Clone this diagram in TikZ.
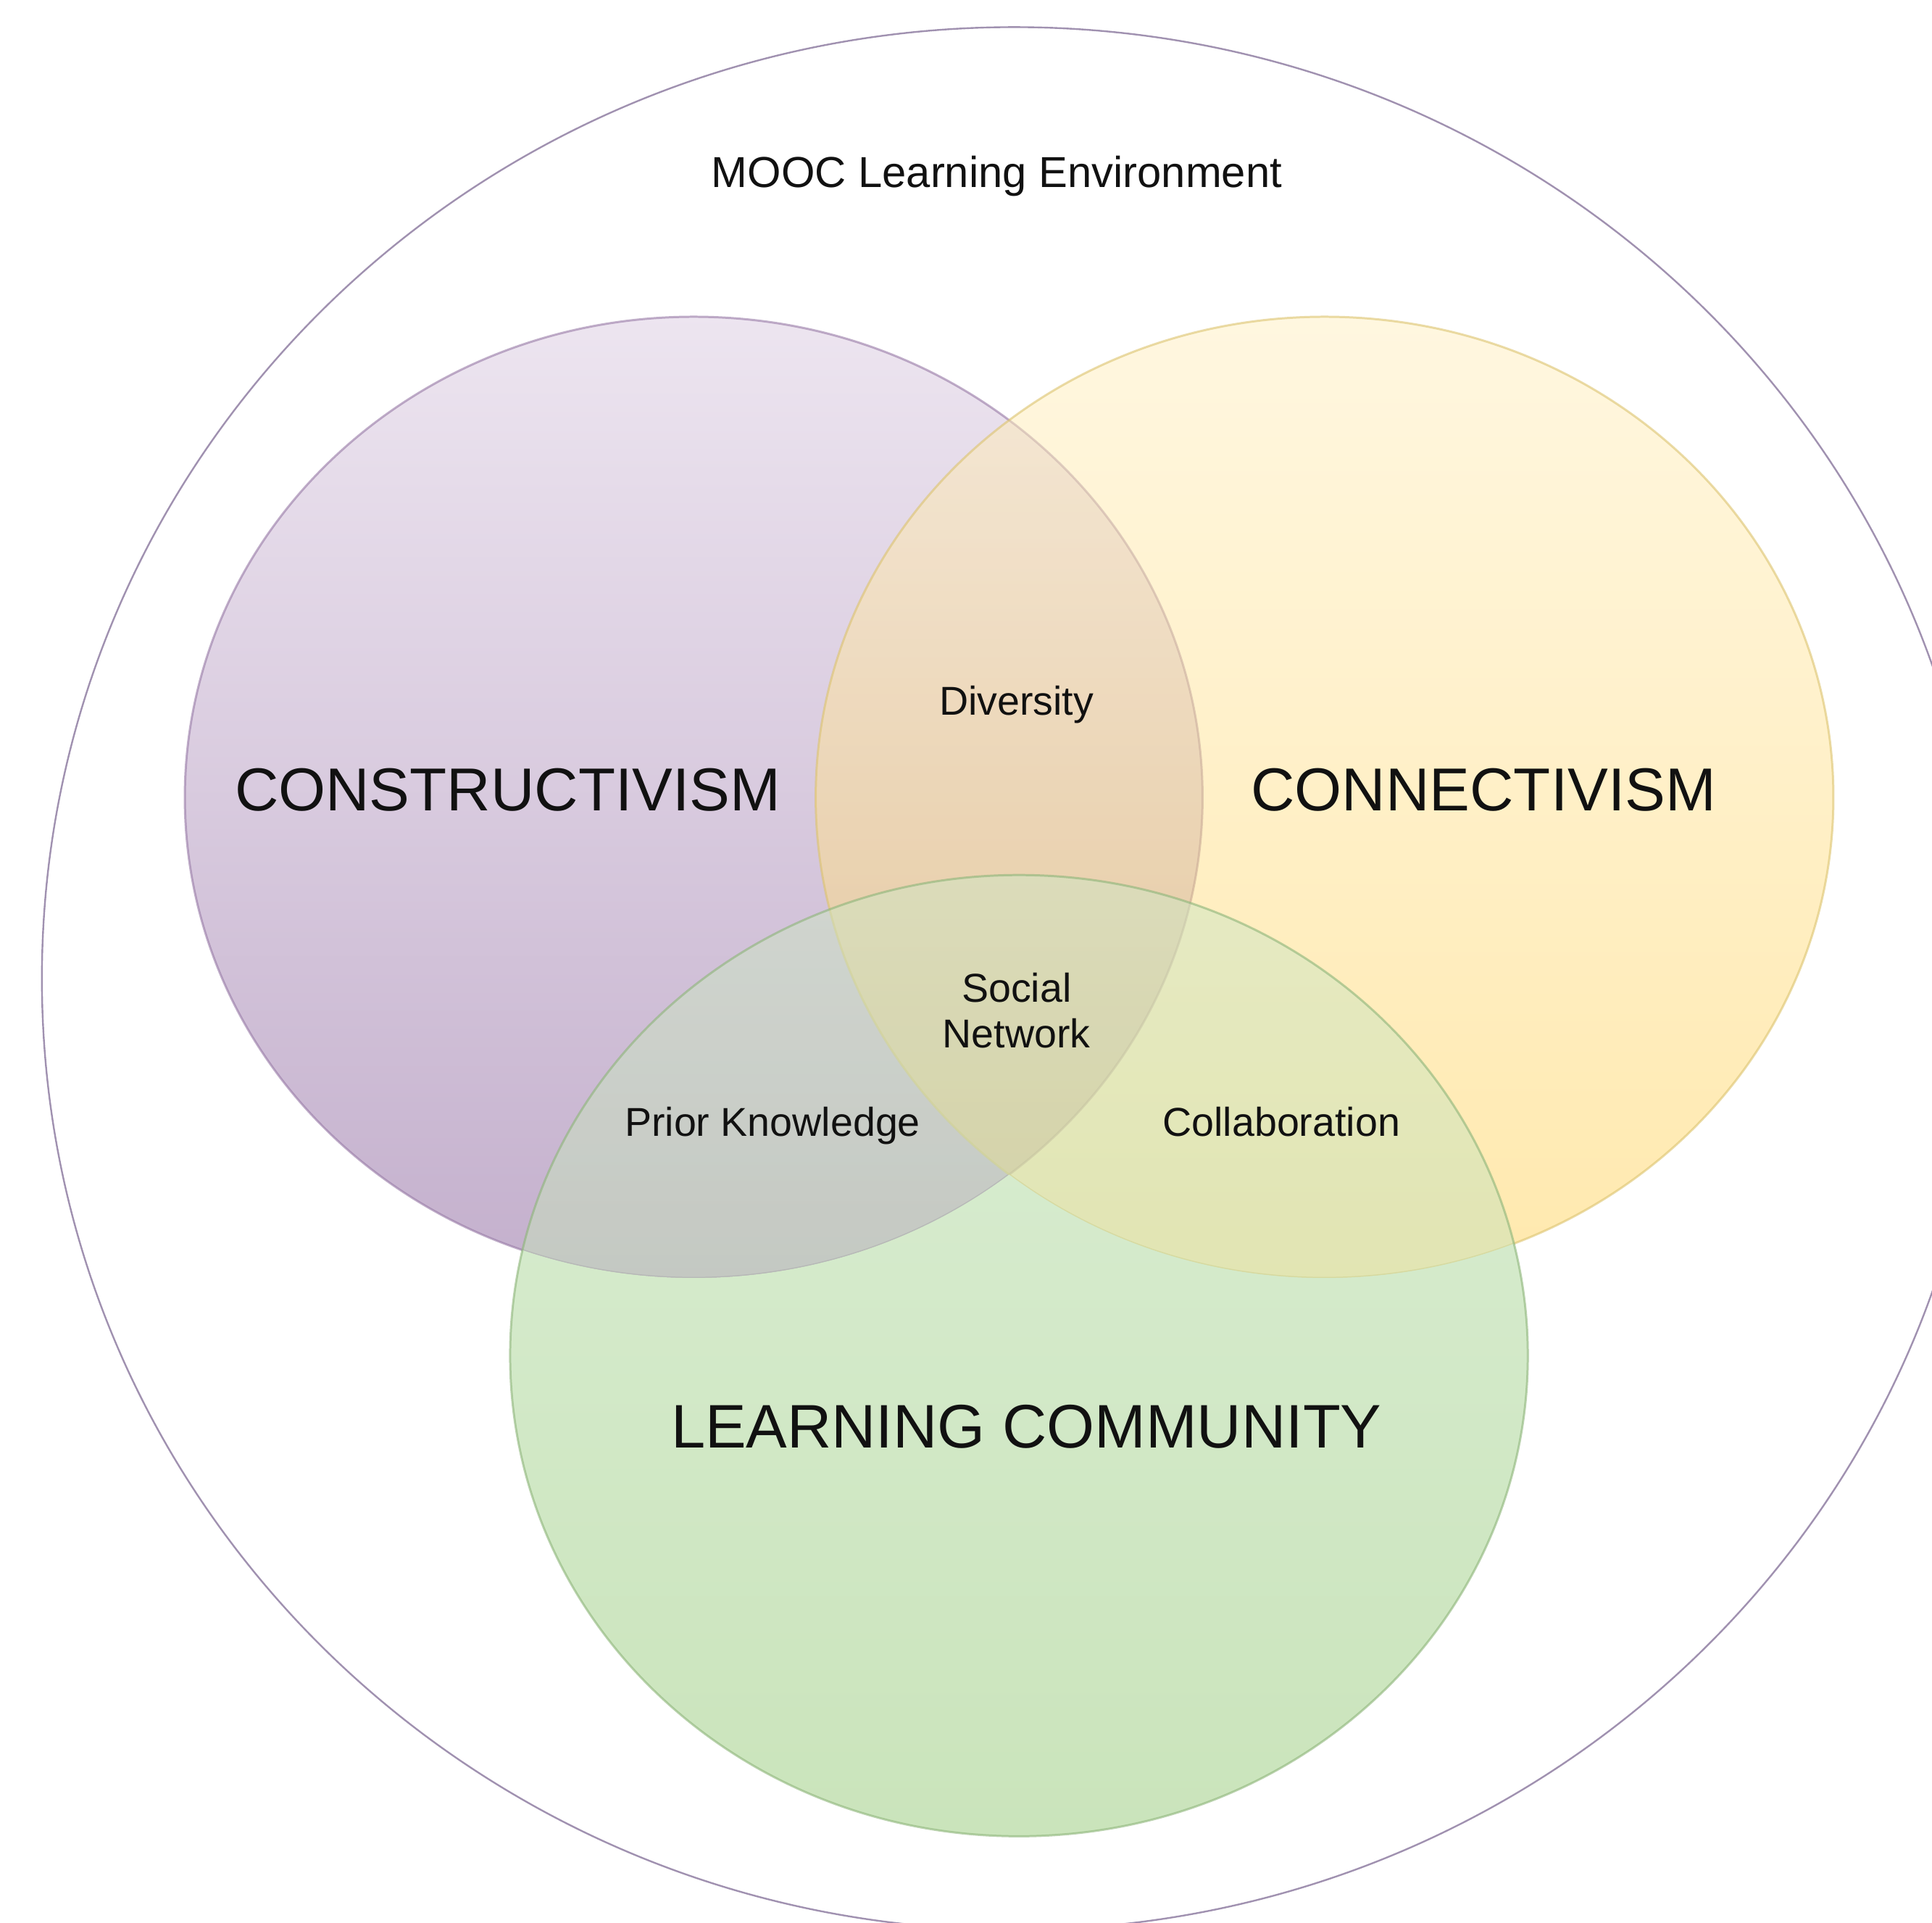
\documentclass[tikz,border=0pt]{standalone}
\usepackage{fontspec}
\setmainfont{Liberation Sans}
\definecolor{outerline}{RGB}{160,145,176}
\definecolor{purpletop}{RGB}{219,203,225}
\definecolor{purplebot}{RGB}{137,97,155}
\definecolor{purpleline}{RGB}{150,120,165}
\definecolor{yellowtop}{RGB}{255,239,193}
\definecolor{yellowbot}{RGB}{255,211,93}
\definecolor{yellowline}{RGB}{220,195,110}
\definecolor{greentop}{RGB}{219,238,213}
\definecolor{greenbot}{RGB}{202,228,187}
\definecolor{greenmixtop}{RGB}{205,230,196}
\definecolor{greenmixbot}{RGB}{186,219,168}
\definecolor{greenline}{RGB}{140,180,120}
\definecolor{labeltext}{RGB}{17,17,17}

\begin{document}
\begin{tikzpicture}[x=0.1mm,y=-0.1mm,
    set/.style={line width=0.5pt, fill opacity=0.5, draw opacity=0.6},
    rim/.style={line width=0.5pt, draw opacity=0.6},
    greenmix/.style={fill opacity=0.5, top color=greenmixtop, bottom color=greenmixbot},
    bigtxt/.style={font=\fontsize{14}{16}\selectfont, text=labeltext, anchor=base, inner sep=0pt},
    smalltxt/.style={font=\fontsize{9.3}{10.6}\selectfont, text=labeltext, anchor=base, inner sep=0pt},
]
    \useasboundingbox (0,0) rectangle (1568,1560);
    \coordinate (P) at (563,647);
    \coordinate (Y) at (1075,647);
    \coordinate (G) at (827,1100);

    \draw[outerline, line width=0.4pt] (823,794) ellipse [x radius=78.9mm, y radius=77.2mm];

    \shade[set, draw=purpleline, top color=purpletop, bottom color=purplebot] (P) ellipse [x radius=41.3mm, y radius=39mm];
    \shade[set, draw=yellowline, top color=yellowtop, bottom color=yellowbot] (Y) ellipse [x radius=41.3mm, y radius=39mm];

    % green: solid where alone, half mixed where it lies over the others
    \begin{scope}[even odd rule]
        \clip (-100,-100) rectangle (1700,1700) (P) ellipse [x radius=41.3mm, y radius=39mm];
        \clip (-100,-100) rectangle (1700,1700) (Y) ellipse [x radius=41.3mm, y radius=39mm];
        \shade[top color=greentop, bottom color=greenbot] (G) ellipse [x radius=41.3mm, y radius=39mm];
    \end{scope}
    \begin{scope}
        \clip (P) ellipse [x radius=41.3mm, y radius=39mm];
        \shade[greenmix] (G) ellipse [x radius=41.3mm, y radius=39mm];
    \end{scope}
    \begin{scope}[even odd rule]
        \clip (-100,-100) rectangle (1700,1700) (P) ellipse [x radius=41.3mm, y radius=39mm];
        \clip (Y) ellipse [x radius=41.3mm, y radius=39mm];
        \shade[greenmix] (G) ellipse [x radius=41.3mm, y radius=39mm];
    \end{scope}
    \draw[rim, greenline] (G) ellipse [x radius=41.3mm, y radius=39mm];

    \node[smalltxt, font=\fontsize{10}{12}\selectfont] (mooc) at (809,152) {MOOC Learning Environment};
    \node[bigtxt] (constr) at (412,658) {CONSTRUCTIVISM};
    \node[bigtxt] (connect) at (1204,658) {CONNECTIVISM};
    \node[bigtxt, font=\fontsize{14.2}{16}\selectfont] (community) at (833,1175) {LEARNING COMMUNITY};
    \node[smalltxt] (diversity) at (825,580) {Diversity};
    \node[smalltxt, anchor=center, align=center] (social) at (825,820) {Social\\Network};
    \node[smalltxt] (prior) at (627,922) {Prior Knowledge};
    \node[smalltxt] (collab) at (1040,922) {Collaboration};

\end{tikzpicture}
\end{document}
